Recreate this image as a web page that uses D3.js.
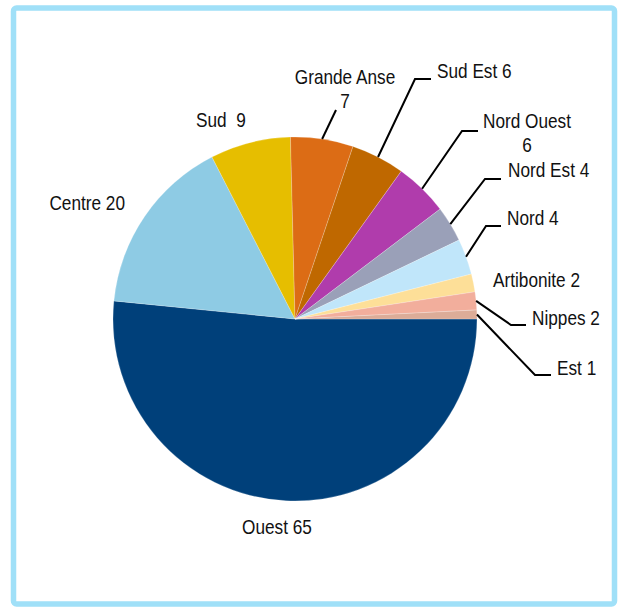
<!DOCTYPE html>
<html>
<head>
<meta charset="utf-8">
<script src="https://cdn.jsdelivr.net/npm/d3@7"></script>
<style>
  body { margin: 0; background: #fff; }
  text { font-family: "Liberation Sans", Arial, sans-serif; font-size: 21px; fill: #111; }
</style>
</head>
<body>
<div id="chart"></div>
<script>
// data
const regions = ["Ouest", "Centre", "Sud", "Grande Anse", "Sud Est", "Nord Ouest",
                 "Nord Est", "Nord", "Artibonite", "Nippes", "Est"];
const counts = [65, 20, 9, 7, 6, 6, 4, 4, 2, 2, 1];
const labelLines = [["Ouest 65"], ["Centre 20"], ["Sud  9"], ["Grande Anse", "7"], ["Sud Est 6"],
                    ["Nord Ouest", "6"], ["Nord Est 4"], ["Nord 4"], ["Artibonite 2"], ["Nippes 2"], ["Est 1"]];
const colors = ["#00407a", "#8ecbe4", "#e6be00", "#dc6c15", "#bf6800", "#b03cac",
                "#9aa0b8", "#c0e6fa", "#fddf98", "#f2ae9c", "#dcac98"];

// label layout: text position, anchor, leader elbow (null = no leader)
const labelLayout = [
  {x: 277, y: 534, anchor: "middle", elbow: null},
  {x: 125, y: 210, anchor: "end", elbow: null},
  {x: 196, y: 127, anchor: "start", elbow: null},
  {x: 345, y: 84, anchor: "middle", elbow: [[336, 110]]},
  {x: 437, y: 78, anchor: "start", elbow: [[415, 79], [431, 79]]},
  {x: 527, y: 128, anchor: "middle", elbow: [[462, 131], [478, 131]]},
  {x: 508, y: 177, anchor: "start", elbow: [[485, 179], [501, 179]]},
  {x: 507, y: 225, anchor: "start", elbow: [[486, 226], [501, 226]]},
  {x: 493, y: 287, anchor: "start", elbow: null},
  {x: 532, y: 325, anchor: "start", elbow: [[511, 325], [526, 325]]},
  {x: 557, y: 375, anchor: "start", elbow: [[535, 375], [551, 375]]}
];

const width = 618, height = 607;
const cx = 295, cy = 319, radius = 182;
const narrow = 0.82; // squeeze to mimic a narrow typeface

const svg = d3.select("#chart").append("svg")
  .attr("width", width)
  .attr("height", height);

// frame
svg.append("rect")
  .attr("x", 13.5).attr("y", 8)
  .attr("width", 601).attr("height", 596)
  .attr("rx", 3)
  .attr("fill", "#fff")
  .attr("stroke", "#a0e0f8")
  .attr("stroke-width", 5.5);

const pie = d3.pie()
  .value(d => d)
  .sort(null)
  .startAngle(Math.PI / 2)
  .endAngle(Math.PI / 2 + 2 * Math.PI);

const arcs = pie(counts);
const arc = d3.arc().innerRadius(0).outerRadius(radius);
const color = d3.scaleOrdinal().domain(regions).range(colors);

const g = svg.append("g").attr("transform", `translate(${cx},${cy})`);

g.selectAll("path")
  .data(arcs)
  .join("path")
  .attr("d", arc)
  .attr("fill", (d, i) => color(regions[i]))
  .attr("stroke", "rgba(255,255,255,0.35)")
  .attr("stroke-width", 0.6);

// leader lines start at slice mid-angle on the rim
const leaders = svg.append("g");
arcs.forEach((d, i) => {
  const lay = labelLayout[i];
  if (!lay.elbow) return;
  const mid = (d.startAngle + d.endAngle) / 2;
  const start = [cx + radius * Math.sin(mid), cy - radius * Math.cos(mid)];
  const pts = [start].concat(lay.elbow);
  leaders.append("path")
    .attr("d", d3.line()(pts))
    .attr("fill", "none")
    .attr("stroke", "#000")
    .attr("stroke-width", 2);
});

// labels
const labels = svg.append("g");
labelLines.forEach((lines, i) => {
  const lay = labelLayout[i];
  const t = labels.append("g")
    .attr("transform", `translate(${lay.x},${lay.y}) scale(${narrow},1)`)
    .append("text")
    .attr("text-anchor", lines.length > 1 ? "middle" : lay.anchor)
    .style("white-space", "pre");
  lines.forEach((s, j) => {
    t.append("tspan")
      .attr("x", 0)
      .attr("dy", j === 0 ? 0 : 24)
      .text(s);
  });
});
</script>
</body>
</html>
